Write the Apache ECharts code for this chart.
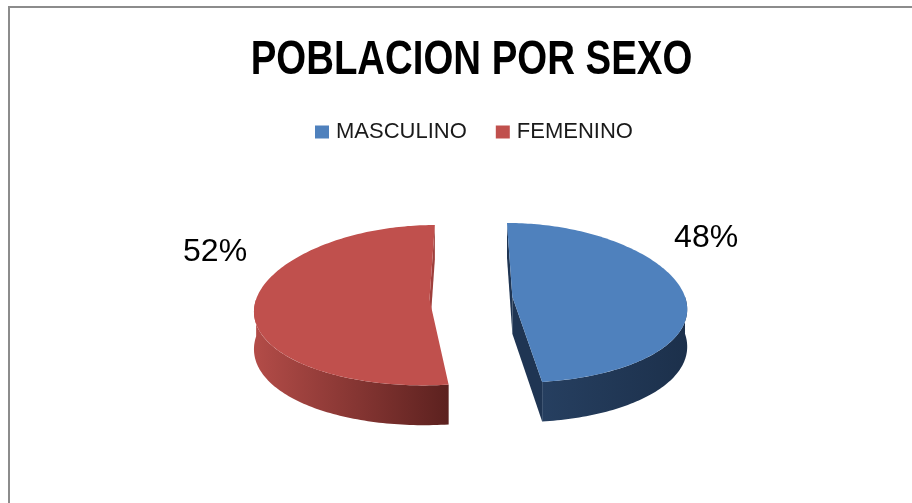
<!DOCTYPE html>
<html>
<head>
<meta charset="utf-8">
<script src="https://cdn.jsdelivr.net/npm/echarts@6/dist/echarts.min.js"></script>
<style>
  html, body { margin: 0; padding: 0; background: #fff; }
  #chart { width: 912px; height: 503px; }
</style>
</head>
<body>
<div id="chart"></div>
<script>
const titleText = "POBLACION POR SEXO";
const categories = ["MASCULINO", "FEMENINO"];
const values = [48, 52];
const topColors = ["#4F81BD", "#C0504D"];

// 3d look of the excel pie
const CX = 471;
const CY = 298;
const RX = 173;
const RY = 80;
const DEPTH = 37;
const PERSP_X = 0.13;
const PERSP_Y = 0.075;
const EXPLODE = 0.24;
const LABEL_TILT = 28 * Math.PI / 180;
const LABEL_R = 1.5;

const sideColors = [
  ["#263F60", "#1C304B"],
  ["#B34C48", "#5C211F"],
];
const cutColors = ["#1F3553", "#9E3F3C"];

const total = values.reduce((a, b) => a + b, 0);

function project(u, v, h) {
  const sx = 1 + PERSP_X * v;
  const sy = 1 + PERSP_Y * v;
  return [CX + u * RX * sx, CY + v * RY * sy + h * DEPTH * sy];
}

function arcPoints(a0, a1, eu, ev, h) {
  const pts = [];
  const steps = Math.max(2, Math.ceil(Math.abs(a1 - a0) / 0.02));
  for (let k = 0; k <= steps; k++) {
    const a = a0 + (a1 - a0) * k / steps;
    pts.push(project(eu + Math.sin(a), ev - Math.cos(a), h));
  }
  return pts;
}

function signedArea(pts) {
  let s = 0;
  for (let k = 0; k < pts.length; k++) {
    const p = pts[k];
    const q = pts[(k + 1) % pts.length];
    s += p[0] * q[1] - q[0] * p[1];
  }
  return s;
}

function renderSlice(idx, api) {
  const before = values.slice(0, idx).reduce((a, b) => a + b, 0);
  const val = api.value(0);
  const a0 = before / total * Math.PI * 2;
  const a1 = (before + val) / total * Math.PI * 2;
  const mid = (a0 + a1) / 2;
  const eu = EXPLODE * Math.sin(mid);
  const ev = -EXPLODE * Math.cos(mid);
  const children = [];

  // radial cut faces, only the ones facing us
  [[a0, -1], [a1, 1]].forEach(([a, sign]) => {
    const quad = [
      project(eu, ev, 0),
      project(eu + Math.sin(a), ev - Math.cos(a), 0),
      project(eu + Math.sin(a), ev - Math.cos(a), 1),
      project(eu, ev, 1),
    ];
    if (signedArea(quad) * sign > 0) {
      children.push({ type: "polygon", shape: { points: quad }, style: { fill: cutColors[idx] } });
    }
  });

  // outer wall on the front half
  const w0 = Math.max(a0, Math.PI / 2);
  const w1 = Math.min(a1, Math.PI * 1.5);
  if (w1 > w0) {
    const topArc = arcPoints(w0, w1, eu, ev, 0);
    const botArc = arcPoints(w0, w1, eu, ev, 1).reverse();
    children.push({
      type: "polygon",
      shape: { points: topArc.concat(botArc) },
      style: {
        fill: new echarts.graphic.LinearGradient(0, 0, 1, 0, [
          { offset: 0, color: sideColors[idx][0] },
          { offset: 1, color: sideColors[idx][1] },
        ]),
      },
    });
  }

  // top face
  const top = [project(eu, ev, 0)].concat(arcPoints(a0, a1, eu, ev, 0));
  children.push({ type: "polygon", shape: { points: top }, style: { fill: topColors[idx] } });

  // percent label
  const la = mid < Math.PI ? mid - LABEL_TILT : mid + LABEL_TILT;
  const lp = project(eu + LABEL_R * Math.sin(la), ev - LABEL_R * Math.cos(la), 0);
  children.push({
    type: "text",
    x: lp[0],
    y: lp[1],
    style: {
      text: Math.round(val / total * 100) + "%",
      fill: "#000",
      fontSize: 32,
      fontFamily: "Liberation Sans",
      align: "center",
      verticalAlign: "middle",
    },
  });

  return { type: "group", children };
}

const chart = echarts.init(document.getElementById("chart"), null, { renderer: "canvas" });

chart.setOption({
  animation: false,
  backgroundColor: "#fff",
  legend: {
    data: categories,
    left: 315,
    top: 121,
    padding: 0,
    icon: "rect",
    itemWidth: 14,
    itemHeight: 13,
    itemGap: 29,
    selectedMode: false,
    textStyle: {
      fontFamily: "Liberation Sans",
      fontSize: 22,
      color: "#1a1a1a",
      padding: [0, 0, 0, 2],
    },
  },
  graphic: [
    {
      type: "rect",
      silent: true,
      shape: { x: 9, y: 7, width: 1000, height: 600 },
      style: { fill: "none", stroke: "#8c8c8c", lineWidth: 2 },
    },
    {
      // condensed bold title, like Calibri in the original
      type: "text",
      silent: true,
      x: 471.5,
      y: 61,
      scaleX: 0.8,
      style: {
        text: titleText,
        fill: "#000",
        fontFamily: "Liberation Sans",
        fontWeight: "bold",
        fontSize: 48,
        align: "center",
        verticalAlign: "middle",
      },
    },
  ],
  series: categories.map((name, i) => ({
    type: "custom",
    name,
    coordinateSystem: "none",
    silent: true,
    itemStyle: { color: topColors[i] },
    data: [values[i]],
    renderItem: (params, api) => renderSlice(i, api),
  })),
});
</script>
</body>
</html>
